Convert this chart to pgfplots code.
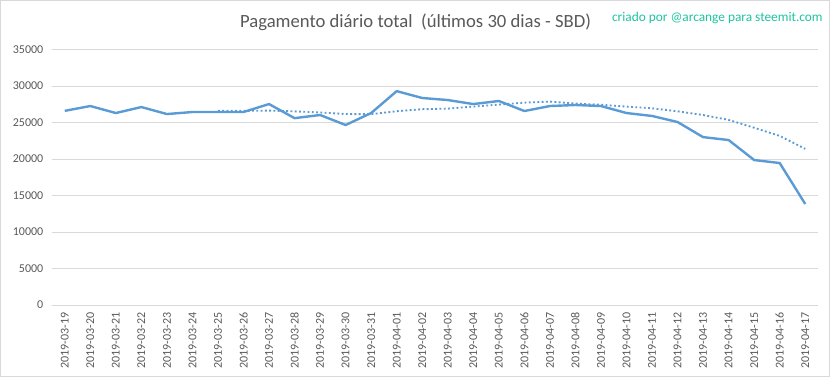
\documentclass[border=0pt]{standalone}
\usepackage{pgfplots}
\pgfplotsset{compat=1.18}
\usepackage{fontspec}
\setmainfont{Carlito}
\definecolor{lineblue}{RGB}{91,155,213}
\definecolor{gridgray}{RGB}{217,217,217}
\definecolor{txtgray}{RGB}{89,89,89}
\definecolor{credit}{RGB}{30,195,160}
\begin{document}
\begin{tikzpicture}
\path (0,0) rectangle (624.75pt,284.25pt);
\draw[gridgray,line width=0.75pt] (0.6pt,1.8pt) rectangle (621.8pt,283.6pt);
\node[font=\fontsize{14}{16}\selectfont, text=txtgray] at (311.7pt,267.5pt) {Pagamento diário total\ \ (últimos 30 dias - SBD)};
\node[font=\fontsize{10}{12}\selectfont, text=credit] at (538pt,270.5pt) {criado por @arcange para steemit.com};
\begin{axis}[
  at={(39pt,55.5pt)}, anchor=south west,
  scale only axis, width=574.5pt, height=191.6pt,
  xmin=-0.5, xmax=29.5, ymin=0, ymax=35000,
  ytick={0,5000,...,35000},
  xtick={0,...,29},
  xticklabels={2019-03-19,2019-03-20,2019-03-21,2019-03-22,2019-03-23,2019-03-24,2019-03-25,2019-03-26,2019-03-27,2019-03-28,2019-03-29,2019-03-30,2019-03-31,2019-04-01,2019-04-02,2019-04-03,2019-04-04,2019-04-05,2019-04-06,2019-04-07,2019-04-08,2019-04-09,2019-04-10,2019-04-11,2019-04-12,2019-04-13,2019-04-14,2019-04-15,2019-04-16,2019-04-17},
  x tick label style={rotate=90, anchor=east, font=\fontsize{9}{10}\selectfont, text=txtgray, xshift=0pt},
  y tick label style={font=\fontsize{9}{10}\selectfont, text=txtgray},
  /pgf/number format/assume math mode=true,
  /pgf/number format/1000 sep={},
  scaled y ticks=false,
  ymajorgrids, grid style={gridgray, line width=0.75pt},
  axis x line*=bottom, axis y line*=left,
  x axis line style={gridgray, line width=0.75pt, -},
  y axis line style={draw=none},
  major tick style={draw=none},
  xticklabel shift=2pt, yticklabel shift=3pt,
  clip=false,
]
\addplot[lineblue, line width=1.8pt, line join=round] coordinates {
(0,26600) (1,27260) (2,26300) (3,27120) (4,26160) (5,26440) (6,26440) (7,26440) (8,27530) (9,25600)
(10,26030) (11,24660) (12,26300) (13,29300) (14,28360) (15,28080) (16,27530) (17,27950) (18,26575) (19,27260)
(20,27400) (21,27260) (22,26300) (23,25900) (24,25070) (25,23000) (26,22600) (27,19860) (28,19450) (29,13840)
};
\addplot[lineblue, line width=1.4pt, dash pattern=on 1.4pt off 1.8pt] coordinates {
(6,26617) (7,26594) (8,26633) (9,26533) (10,26377) (11,26163) (12,26143) (13,26551) (14,26826) (15,26904)
(16,27180) (17,27454) (18,27728) (19,27865) (20,27594) (21,27436) (22,27182) (23,26949) (24,26538) (25,26027)
(26,25361) (27,24284) (28,23169) (29,21389)
};
\end{axis}
\end{tikzpicture}
\end{document}
